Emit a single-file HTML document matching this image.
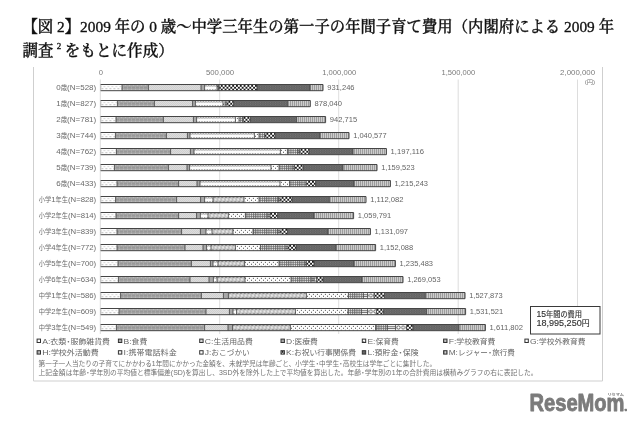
<!DOCTYPE html>
<html lang="ja"><head><meta charset="utf-8"><title>図2</title>
<style>html,body{margin:0;padding:0;background:#fff;}svg{display:block}</style></head><body>
<svg width="640" height="426" viewBox="0 0 640 426">

<defs>
<pattern id="pA" patternUnits="userSpaceOnUse" width="4" height="16" x="100.4" y="84">
 <rect width="4" height="16" fill="#fdfdfd"/><rect x="1.5" y="4.2" width="1" height="1" fill="#8a8a8a"/><rect x="3.5" y="2.2" width="1" height="0.9" fill="#b0b0b0"/><rect x="-0.5" y="2.2" width="1" height="0.9" fill="#b0b0b0"/>
</pattern>
<pattern id="pB" patternUnits="userSpaceOnUse" width="4" height="16" x="0" y="84">
 <rect width="4" height="16" fill="#ababab"/><rect y="2.5" width="4" height="2.1" fill="#989898"/><rect x="3.3" y="2.5" width="0.7" height="2.1" fill="#b4b4b4"/><rect x="1" y="1.3" width="1" height="0.8" fill="#c4c4c4"/><rect x="3" y="5" width="1" height="0.8" fill="#bebebe"/>
</pattern>
<pattern id="pC" patternUnits="userSpaceOnUse" width="2" height="2" x="0" y="84">
 <rect width="2" height="2" fill="#dcdcdc"/><rect x="0" y="0" width="1" height="1" fill="#d0d0d0"/><rect x="1" y="1" width="1" height="1" fill="#d0d0d0"/>
</pattern>
<pattern id="pD" patternUnits="userSpaceOnUse" width="4" height="4">
 <rect width="4" height="4" fill="#a8a8a8"/>
</pattern>
<pattern id="pE" patternUnits="userSpaceOnUse" width="1.6" height="16" x="0" y="84">
 <rect width="1.6" height="16" fill="#fcfcfc"/><rect x="0" y="1" width="1.6" height="1.9" fill="#e6e6e6"/><rect x="0" y="1.1" width="0.8" height="1" fill="#8e8e8e"/><rect x="0.8" y="2.1" width="0.8" height="0.8" fill="#bdbdbd"/><rect x="0.8" y="5" width="0.8" height="1" fill="#9c9c9c"/>
</pattern>
<pattern id="pF" patternUnits="userSpaceOnUse" width="3.75" height="16" x="0" y="84">
 <rect width="3.75" height="16" fill="#c2c2c2"/><rect x="0" y="0.6" width="2" height="1" fill="#6a6a6a"/><rect x="1.9" y="5.4" width="1.9" height="0.9" fill="#808080"/>
 <path d="M1.9 2.1 L3.3 3.6 L1.9 5.1 L0.5 3.6Z" fill="#e6e6e6"/><path d="M0 2.9 L0.5 3.6 L0 4.3Z M3.75 2.9 L3.3 3.6 L3.75 4.3Z" fill="#a2a2a2"/>
</pattern>
<pattern id="pG" patternUnits="userSpaceOnUse" width="4" height="16" x="0" y="84">
 <rect width="4" height="16" fill="#fdfdfd"/><rect x="0.9" y="1.85" width="1" height="1" fill="#4c4c4c"/><rect x="3" y="3.75" width="1" height="1" fill="#4c4c4c"/><rect x="0.9" y="5.7" width="1" height="0.8" fill="#777"/>
</pattern>
<pattern id="pH" patternUnits="userSpaceOnUse" width="2.2" height="16" x="0" y="84">
 <rect width="2.2" height="16" fill="#e6e6e6"/><rect x="0" y="0" width="1.1" height="16" fill="#777"/><rect x="0" y="2.45" width="2.2" height="0.6" fill="#666"/><rect x="0" y="4.25" width="2.2" height="0.6" fill="#666"/>
</pattern>
<pattern id="pI" patternUnits="userSpaceOnUse" width="3" height="16" x="0" y="84">
 <rect width="3" height="16" fill="#f0f0f0"/><rect x="0" y="2.35" width="3" height="0.8" fill="#5a5a5a"/><rect x="0" y="4.15" width="3" height="0.8" fill="#5a5a5a"/>
</pattern>
<pattern id="pJ" patternUnits="userSpaceOnUse" width="4.6" height="16" x="0.6" y="84">
 <rect width="4.6" height="16" fill="#fff"/><rect x="0.8" y="1.9" width="3" height="3.2" rx="1.3" fill="#fff" stroke="#3c3c3c" stroke-width="0.8"/>
</pattern>
<pattern id="pK" patternUnits="userSpaceOnUse" width="3.8" height="3.8" x="0.4" y="84.9">
 <rect width="3.8" height="3.8" fill="#fff"/><rect x="0" y="0" width="1.9" height="1.9" fill="#1e1e1e"/><rect x="1.9" y="1.9" width="1.9" height="1.9" fill="#1e1e1e"/>
</pattern>
<pattern id="pL" patternUnits="userSpaceOnUse" width="2.5" height="2" x="0" y="84.3">
 <rect width="2.5" height="2" fill="#5c5c5c"/><rect x="0" y="0" width="1" height="0.9" fill="#828282"/><rect x="1.25" y="1" width="1" height="0.9" fill="#7a7a7a"/>
</pattern>
<pattern id="pM" patternUnits="userSpaceOnUse" width="2" height="4" x="0.3" y="84">
 <rect width="2" height="4" fill="#f2f2f2"/><rect x="0" y="0" width="0.8" height="4" fill="#585858"/>
</pattern>
<filter id="blur" x="-2%" y="-2%" width="104%" height="104%"><feGaussianBlur stdDeviation="0.22"/></filter>
</defs>
<rect width="640" height="426" fill="#fff"/>
<g font-family='"Liberation Serif","Noto Serif CJK JP","Noto Serif CJK SC",serif' font-size="15.4" font-weight="500" fill="#111" stroke="#111" stroke-width="0.33">
<text x="22.5" y="31.5" textLength="591.5" lengthAdjust="spacingAndGlyphs" xml:space="preserve">【図 2】2009 年の 0 歳～中学三年生の第一子の年間子育て費用（内閣府による 2009 年</text>
<text x="22.5" y="55.6" xml:space="preserve"><tspan textLength="31" lengthAdjust="spacingAndGlyphs">調査</tspan><tspan dx="3.2" dy="-6.8" font-size="9">2</tspan><tspan dx="3.6" dy="6.8" textLength="109" lengthAdjust="spacingAndGlyphs">をもとに作成）</tspan></text>
</g>
<g fill="none" stroke="#cfcfcf" stroke-width="1">
<path d="M33.5 67 V381 H602.5 V67"/>
</g>
<g stroke="#d4d4d4" stroke-width="0.8">
<line x1="100.3" y1="79.5" x2="100.3" y2="334"/>
<line x1="219.7" y1="79.5" x2="219.7" y2="334"/>
<line x1="338.7" y1="79.5" x2="338.7" y2="334"/>
<line x1="458.2" y1="79.5" x2="458.2" y2="334"/>
<line x1="577.5" y1="79.5" x2="577.5" y2="334"/>
</g>
<g font-family='"Liberation Sans","Noto Sans CJK JP","Noto Sans CJK SC",sans-serif' font-size="7.6" fill="#7a7a7a" text-anchor="middle">
<text x="100.8" y="75.4">0</text>
<text x="220.0" y="75.4" textLength="28.2" lengthAdjust="spacingAndGlyphs">500,000</text>
<text x="339.2" y="75.4" textLength="34" lengthAdjust="spacingAndGlyphs">1,000,000</text>
<text x="458.3" y="75.4" textLength="33.6" lengthAdjust="spacingAndGlyphs">1,500,000</text>
<text x="577.6" y="75.4" textLength="35" lengthAdjust="spacingAndGlyphs">2,000,000</text>
<text x="595.2" y="84.4" text-anchor="end" font-size="6.2" textLength="10.4" lengthAdjust="spacingAndGlyphs">(円)</text>
</g>
<g filter="url(#blur)">
<g transform="translate(0,0.0)">
<rect x="101.0" y="84.5" width="21.0" height="6.2" fill="url(#pA)"/><rect x="122" y="84.5" width="26.4" height="6.2" fill="url(#pB)"/><rect x="148.4" y="84.5" width="52.6" height="6.2" fill="url(#pC)"/><rect x="201" y="84.5" width="3.6" height="6.2" fill="url(#pD)"/><rect x="204.6" y="84.5" width="12.4" height="6.2" fill="url(#pE)"/><rect x="217" y="84.5" width="1" height="6.2" fill="url(#pG)"/><rect x="218" y="84.5" width="1.2" height="6.2" fill="url(#pH)"/><rect x="219.2" y="84.5" width="37.8" height="6.2" fill="url(#pK)"/><rect x="257" y="84.5" width="53" height="6.2" fill="url(#pL)"/><rect x="310" y="84.5" width="13" height="6.2" fill="url(#pM)"/>
<path d="M122 84.5v6.2M148.4 84.5v6.2M201 84.5v6.2M204.6 84.5v6.2M217 84.5v6.2M218 84.5v6.2M219.2 84.5v6.2M257 84.5v6.2M310 84.5v6.2" stroke="#3a3a3a" stroke-width="0.8" fill="none"/><path d="M100.6 84.5H323V90.7H100.6" fill="none" stroke="#444" stroke-width="1"/><path d="M100.8 84.5v6.2" fill="none" stroke="#999" stroke-width="0.6"/>
</g>
<g transform="translate(0,16.0)">
<rect x="101.0" y="84.5" width="16.4" height="6.2" fill="url(#pA)"/><rect x="117.4" y="84.5" width="37.0" height="6.2" fill="url(#pB)"/><rect x="154.4" y="84.5" width="38.2" height="6.2" fill="url(#pC)"/><rect x="192.6" y="84.5" width="2.8" height="6.2" fill="url(#pD)"/><rect x="195.4" y="84.5" width="27.6" height="6.2" fill="url(#pE)"/><rect x="223" y="84.5" width="2" height="6.2" fill="url(#pG)"/><rect x="225" y="84.5" width="2" height="6.2" fill="url(#pH)"/><rect x="227" y="84.5" width="6.6" height="6.2" fill="url(#pK)"/><rect x="233.6" y="84.5" width="54.0" height="6.2" fill="url(#pL)"/><rect x="287.6" y="84.5" width="22.7" height="6.2" fill="url(#pM)"/>
<path d="M117.4 84.5v6.2M154.4 84.5v6.2M192.6 84.5v6.2M195.4 84.5v6.2M223 84.5v6.2M225 84.5v6.2M227 84.5v6.2M233.6 84.5v6.2M287.6 84.5v6.2" stroke="#3a3a3a" stroke-width="0.8" fill="none"/><path d="M100.6 84.5H310.3V90.7H100.6" fill="none" stroke="#444" stroke-width="1"/><path d="M100.8 84.5v6.2" fill="none" stroke="#999" stroke-width="0.6"/>
</g>
<g transform="translate(0,32.0)">
<rect x="101.0" y="84.5" width="15.0" height="6.2" fill="url(#pA)"/><rect x="116" y="84.5" width="47.4" height="6.2" fill="url(#pB)"/><rect x="163.4" y="84.5" width="30.0" height="6.2" fill="url(#pC)"/><rect x="193.4" y="84.5" width="3.2" height="6.2" fill="url(#pD)"/><rect x="196.6" y="84.5" width="38.8" height="6.2" fill="url(#pE)"/><rect x="235.4" y="84.5" width="3.6" height="6.2" fill="url(#pG)"/><rect x="239" y="84.5" width="4" height="6.2" fill="url(#pH)"/><rect x="243" y="84.5" width="7.4" height="6.2" fill="url(#pK)"/><rect x="250.4" y="84.5" width="46.2" height="6.2" fill="url(#pL)"/><rect x="296.6" y="84.5" width="29.0" height="6.2" fill="url(#pM)"/>
<path d="M116 84.5v6.2M163.4 84.5v6.2M193.4 84.5v6.2M196.6 84.5v6.2M235.4 84.5v6.2M239 84.5v6.2M243 84.5v6.2M250.4 84.5v6.2M296.6 84.5v6.2" stroke="#3a3a3a" stroke-width="0.8" fill="none"/><path d="M100.6 84.5H325.6V90.7H100.6" fill="none" stroke="#444" stroke-width="1"/><path d="M100.8 84.5v6.2" fill="none" stroke="#999" stroke-width="0.6"/>
</g>
<g transform="translate(0,48.0)">
<rect x="101.0" y="84.5" width="14.4" height="6.2" fill="url(#pA)"/><rect x="115.4" y="84.5" width="51.0" height="6.2" fill="url(#pB)"/><rect x="166.4" y="84.5" width="21.0" height="6.2" fill="url(#pC)"/><rect x="187.4" y="84.5" width="2.6" height="6.2" fill="url(#pD)"/><rect x="190" y="84.5" width="64.4" height="6.2" fill="url(#pE)"/><rect x="254.4" y="84.5" width="4.6" height="6.2" fill="url(#pG)"/><rect x="259" y="84.5" width="6" height="6.2" fill="url(#pH)"/><rect x="265" y="84.5" width="10" height="6.2" fill="url(#pK)"/><rect x="275" y="84.5" width="45" height="6.2" fill="url(#pL)"/><rect x="320" y="84.5" width="29" height="6.2" fill="url(#pM)"/>
<path d="M115.4 84.5v6.2M166.4 84.5v6.2M187.4 84.5v6.2M190 84.5v6.2M254.4 84.5v6.2M259 84.5v6.2M265 84.5v6.2M275 84.5v6.2M320 84.5v6.2" stroke="#3a3a3a" stroke-width="0.8" fill="none"/><path d="M100.6 84.5H349V90.7H100.6" fill="none" stroke="#444" stroke-width="1"/><path d="M100.8 84.5v6.2" fill="none" stroke="#999" stroke-width="0.6"/>
</g>
<g transform="translate(0,64.0)">
<rect x="101.0" y="84.5" width="15.4" height="6.2" fill="url(#pA)"/><rect x="116.4" y="84.5" width="54.2" height="6.2" fill="url(#pB)"/><rect x="170.6" y="84.5" width="19.8" height="6.2" fill="url(#pC)"/><rect x="190.4" y="84.5" width="3.6" height="6.2" fill="url(#pD)"/><rect x="194" y="84.5" width="86.4" height="6.2" fill="url(#pE)"/><rect x="280.4" y="84.5" width="7.0" height="6.2" fill="url(#pG)"/><rect x="287.4" y="84.5" width="10.6" height="6.2" fill="url(#pH)"/><rect x="298" y="84.5" width="1.6" height="6.2" fill="url(#pI)"/><rect x="299.6" y="84.5" width="9.4" height="6.2" fill="url(#pK)"/><rect x="309" y="84.5" width="44" height="6.2" fill="url(#pL)"/><rect x="353" y="84.5" width="33.4" height="6.2" fill="url(#pM)"/>
<path d="M116.4 84.5v6.2M170.6 84.5v6.2M190.4 84.5v6.2M194 84.5v6.2M280.4 84.5v6.2M287.4 84.5v6.2M298 84.5v6.2M299.6 84.5v6.2M309 84.5v6.2M353 84.5v6.2" stroke="#3a3a3a" stroke-width="0.8" fill="none"/><path d="M100.6 84.5H386.4V90.7H100.6" fill="none" stroke="#444" stroke-width="1"/><path d="M100.8 84.5v6.2" fill="none" stroke="#999" stroke-width="0.6"/>
</g>
<g transform="translate(0,80.0)">
<rect x="101.0" y="84.5" width="13.4" height="6.2" fill="url(#pA)"/><rect x="114.4" y="84.5" width="54.0" height="6.2" fill="url(#pB)"/><rect x="168.4" y="84.5" width="18.6" height="6.2" fill="url(#pC)"/><rect x="187" y="84.5" width="2.6" height="6.2" fill="url(#pD)"/><rect x="189.6" y="84.5" width="81.4" height="6.2" fill="url(#pE)"/><rect x="271" y="84.5" width="8" height="6.2" fill="url(#pG)"/><rect x="279" y="84.5" width="14" height="6.2" fill="url(#pH)"/><rect x="293" y="84.5" width="1.6" height="6.2" fill="url(#pI)"/><rect x="294.6" y="84.5" width="8.8" height="6.2" fill="url(#pK)"/><rect x="303.4" y="84.5" width="39.6" height="6.2" fill="url(#pL)"/><rect x="343" y="84.5" width="34" height="6.2" fill="url(#pM)"/>
<path d="M114.4 84.5v6.2M168.4 84.5v6.2M187 84.5v6.2M189.6 84.5v6.2M271 84.5v6.2M279 84.5v6.2M293 84.5v6.2M294.6 84.5v6.2M303.4 84.5v6.2M343 84.5v6.2" stroke="#3a3a3a" stroke-width="0.8" fill="none"/><path d="M100.6 84.5H377V90.7H100.6" fill="none" stroke="#444" stroke-width="1"/><path d="M100.8 84.5v6.2" fill="none" stroke="#999" stroke-width="0.6"/>
</g>
<g transform="translate(0,96.0)">
<rect x="101.0" y="84.5" width="16.0" height="6.2" fill="url(#pA)"/><rect x="117" y="84.5" width="61.6" height="6.2" fill="url(#pB)"/><rect x="178.6" y="84.5" width="18.4" height="6.2" fill="url(#pC)"/><rect x="197" y="84.5" width="3" height="6.2" fill="url(#pD)"/><rect x="200" y="84.5" width="80" height="6.2" fill="url(#pE)"/><rect x="280" y="84.5" width="9.6" height="6.2" fill="url(#pG)"/><rect x="289.6" y="84.5" width="16.4" height="6.2" fill="url(#pH)"/><rect x="306" y="84.5" width="9.6" height="6.2" fill="url(#pK)"/><rect x="315.6" y="84.5" width="38.4" height="6.2" fill="url(#pL)"/><rect x="354" y="84.5" width="36.4" height="6.2" fill="url(#pM)"/>
<path d="M117 84.5v6.2M178.6 84.5v6.2M197 84.5v6.2M200 84.5v6.2M280 84.5v6.2M289.6 84.5v6.2M306 84.5v6.2M315.6 84.5v6.2M354 84.5v6.2" stroke="#3a3a3a" stroke-width="0.8" fill="none"/><path d="M100.6 84.5H390.4V90.7H100.6" fill="none" stroke="#444" stroke-width="1"/><path d="M100.8 84.5v6.2" fill="none" stroke="#999" stroke-width="0.6"/>
</g>
<g transform="translate(0,112.0)">
<rect x="101.0" y="84.5" width="14.6" height="6.2" fill="url(#pA)"/><rect x="115.6" y="84.5" width="61.0" height="6.2" fill="url(#pB)"/><rect x="176.6" y="84.5" width="24.0" height="6.2" fill="url(#pC)"/><rect x="200.6" y="84.5" width="4.0" height="6.2" fill="url(#pD)"/><rect x="204.6" y="84.5" width="8.4" height="6.2" fill="url(#pE)"/><rect x="213" y="84.5" width="31" height="6.2" fill="url(#pF)"/><rect x="244" y="84.5" width="15" height="6.2" fill="url(#pG)"/><rect x="259" y="84.5" width="19.4" height="6.2" fill="url(#pH)"/><rect x="278.4" y="84.5" width="1.6" height="6.2" fill="url(#pI)"/><rect x="280" y="84.5" width="12" height="6.2" fill="url(#pK)"/><rect x="292" y="84.5" width="37.4" height="6.2" fill="url(#pL)"/><rect x="329.4" y="84.5" width="36.6" height="6.2" fill="url(#pM)"/>
<path d="M115.6 84.5v6.2M176.6 84.5v6.2M200.6 84.5v6.2M204.6 84.5v6.2M213 84.5v6.2M244 84.5v6.2M259 84.5v6.2M278.4 84.5v6.2M280 84.5v6.2M292 84.5v6.2M329.4 84.5v6.2" stroke="#3a3a3a" stroke-width="0.8" fill="none"/><path d="M100.6 84.5H366V90.7H100.6" fill="none" stroke="#444" stroke-width="1"/><path d="M100.8 84.5v6.2" fill="none" stroke="#999" stroke-width="0.6"/>
</g>
<g transform="translate(0,128.0)">
<rect x="101.0" y="84.5" width="15.0" height="6.2" fill="url(#pA)"/><rect x="116" y="84.5" width="62.6" height="6.2" fill="url(#pB)"/><rect x="178.6" y="84.5" width="18.0" height="6.2" fill="url(#pC)"/><rect x="196.6" y="84.5" width="3.8" height="6.2" fill="url(#pD)"/><rect x="200.4" y="84.5" width="7.6" height="6.2" fill="url(#pE)"/><rect x="208" y="84.5" width="20.4" height="6.2" fill="url(#pF)"/><rect x="228.4" y="84.5" width="17.0" height="6.2" fill="url(#pG)"/><rect x="245.4" y="84.5" width="22.6" height="6.2" fill="url(#pH)"/><rect x="268" y="84.5" width="2" height="6.2" fill="url(#pI)"/><rect x="270" y="84.5" width="7.6" height="6.2" fill="url(#pK)"/><rect x="277.6" y="84.5" width="36.4" height="6.2" fill="url(#pL)"/><rect x="314" y="84.5" width="39.6" height="6.2" fill="url(#pM)"/>
<path d="M116 84.5v6.2M178.6 84.5v6.2M196.6 84.5v6.2M200.4 84.5v6.2M208 84.5v6.2M228.4 84.5v6.2M245.4 84.5v6.2M268 84.5v6.2M270 84.5v6.2M277.6 84.5v6.2M314 84.5v6.2" stroke="#3a3a3a" stroke-width="0.8" fill="none"/><path d="M100.6 84.5H353.6V90.7H100.6" fill="none" stroke="#444" stroke-width="1"/><path d="M100.8 84.5v6.2" fill="none" stroke="#999" stroke-width="0.6"/>
</g>
<g transform="translate(0,144.0)">
<rect x="101.0" y="84.5" width="16.0" height="6.2" fill="url(#pA)"/><rect x="117" y="84.5" width="64.6" height="6.2" fill="url(#pB)"/><rect x="181.6" y="84.5" width="18.8" height="6.2" fill="url(#pC)"/><rect x="200.4" y="84.5" width="5.6" height="6.2" fill="url(#pD)"/><rect x="206" y="84.5" width="6" height="6.2" fill="url(#pE)"/><rect x="212" y="84.5" width="21" height="6.2" fill="url(#pF)"/><rect x="233" y="84.5" width="20" height="6.2" fill="url(#pG)"/><rect x="253" y="84.5" width="25" height="6.2" fill="url(#pH)"/><rect x="278" y="84.5" width="2" height="6.2" fill="url(#pI)"/><rect x="280" y="84.5" width="7.6" height="6.2" fill="url(#pK)"/><rect x="287.6" y="84.5" width="40.4" height="6.2" fill="url(#pL)"/><rect x="328" y="84.5" width="42.4" height="6.2" fill="url(#pM)"/>
<path d="M117 84.5v6.2M181.6 84.5v6.2M200.4 84.5v6.2M206 84.5v6.2M212 84.5v6.2M233 84.5v6.2M253 84.5v6.2M278 84.5v6.2M280 84.5v6.2M287.6 84.5v6.2M328 84.5v6.2" stroke="#3a3a3a" stroke-width="0.8" fill="none"/><path d="M100.6 84.5H370.4V90.7H100.6" fill="none" stroke="#444" stroke-width="1"/><path d="M100.8 84.5v6.2" fill="none" stroke="#999" stroke-width="0.6"/>
</g>
<g transform="translate(0,160.0)">
<rect x="101.0" y="84.5" width="16.0" height="6.2" fill="url(#pA)"/><rect x="117" y="84.5" width="68" height="6.2" fill="url(#pB)"/><rect x="185" y="84.5" width="18" height="6.2" fill="url(#pC)"/><rect x="203" y="84.5" width="3.6" height="6.2" fill="url(#pD)"/><rect x="206.6" y="84.5" width="4.4" height="6.2" fill="url(#pE)"/><rect x="211" y="84.5" width="24.4" height="6.2" fill="url(#pF)"/><rect x="235.4" y="84.5" width="25.0" height="6.2" fill="url(#pG)"/><rect x="260.4" y="84.5" width="25.6" height="6.2" fill="url(#pH)"/><rect x="286" y="84.5" width="2" height="6.2" fill="url(#pI)"/><rect x="288" y="84.5" width="8" height="6.2" fill="url(#pK)"/><rect x="296" y="84.5" width="40" height="6.2" fill="url(#pL)"/><rect x="336" y="84.5" width="39.6" height="6.2" fill="url(#pM)"/>
<path d="M117 84.5v6.2M185 84.5v6.2M203 84.5v6.2M206.6 84.5v6.2M211 84.5v6.2M235.4 84.5v6.2M260.4 84.5v6.2M286 84.5v6.2M288 84.5v6.2M296 84.5v6.2M336 84.5v6.2" stroke="#3a3a3a" stroke-width="0.8" fill="none"/><path d="M100.6 84.5H375.6V90.7H100.6" fill="none" stroke="#444" stroke-width="1"/><path d="M100.8 84.5v6.2" fill="none" stroke="#999" stroke-width="0.6"/>
</g>
<g transform="translate(0,176.0)">
<rect x="101.0" y="84.5" width="17.0" height="6.2" fill="url(#pA)"/><rect x="118" y="84.5" width="73.4" height="6.2" fill="url(#pB)"/><rect x="191.4" y="84.5" width="19.0" height="6.2" fill="url(#pC)"/><rect x="210.4" y="84.5" width="2.6" height="6.2" fill="url(#pD)"/><rect x="213" y="84.5" width="5" height="6.2" fill="url(#pE)"/><rect x="218" y="84.5" width="26.6" height="6.2" fill="url(#pF)"/><rect x="244.6" y="84.5" width="34.4" height="6.2" fill="url(#pG)"/><rect x="279" y="84.5" width="26" height="6.2" fill="url(#pH)"/><rect x="305" y="84.5" width="1.4" height="6.2" fill="url(#pI)"/><rect x="306.4" y="84.5" width="7.6" height="6.2" fill="url(#pK)"/><rect x="314" y="84.5" width="40" height="6.2" fill="url(#pL)"/><rect x="354" y="84.5" width="41.4" height="6.2" fill="url(#pM)"/>
<path d="M118 84.5v6.2M191.4 84.5v6.2M210.4 84.5v6.2M213 84.5v6.2M218 84.5v6.2M244.6 84.5v6.2M279 84.5v6.2M305 84.5v6.2M306.4 84.5v6.2M314 84.5v6.2M354 84.5v6.2" stroke="#3a3a3a" stroke-width="0.8" fill="none"/><path d="M100.6 84.5H395.4V90.7H100.6" fill="none" stroke="#444" stroke-width="1"/><path d="M100.8 84.5v6.2" fill="none" stroke="#999" stroke-width="0.6"/>
</g>
<g transform="translate(0,192.0)">
<rect x="101.0" y="84.5" width="17.4" height="6.2" fill="url(#pA)"/><rect x="118.4" y="84.5" width="71.6" height="6.2" fill="url(#pB)"/><rect x="190" y="84.5" width="19" height="6.2" fill="url(#pC)"/><rect x="209" y="84.5" width="4.4" height="6.2" fill="url(#pD)"/><rect x="213.4" y="84.5" width="3.6" height="6.2" fill="url(#pE)"/><rect x="217" y="84.5" width="28" height="6.2" fill="url(#pF)"/><rect x="245" y="84.5" width="46" height="6.2" fill="url(#pG)"/><rect x="291" y="84.5" width="21" height="6.2" fill="url(#pH)"/><rect x="312" y="84.5" width="2" height="6.2" fill="url(#pI)"/><rect x="314" y="84.5" width="2.6" height="6.2" fill="url(#pJ)"/><rect x="316.6" y="84.5" width="6.4" height="6.2" fill="url(#pK)"/><rect x="323" y="84.5" width="39" height="6.2" fill="url(#pL)"/><rect x="362" y="84.5" width="41" height="6.2" fill="url(#pM)"/>
<path d="M118.4 84.5v6.2M190 84.5v6.2M209 84.5v6.2M213.4 84.5v6.2M217 84.5v6.2M245 84.5v6.2M291 84.5v6.2M312 84.5v6.2M314 84.5v6.2M316.6 84.5v6.2M323 84.5v6.2M362 84.5v6.2" stroke="#3a3a3a" stroke-width="0.8" fill="none"/><path d="M100.6 84.5H403V90.7H100.6" fill="none" stroke="#444" stroke-width="1"/><path d="M100.8 84.5v6.2" fill="none" stroke="#999" stroke-width="0.6"/>
</g>
<g transform="translate(0,208.0)">
<rect x="101.0" y="84.5" width="19.6" height="6.2" fill="url(#pA)"/><rect x="120.6" y="84.5" width="80.8" height="6.2" fill="url(#pB)"/><rect x="201.4" y="84.5" width="22.0" height="6.2" fill="url(#pC)"/><rect x="223.4" y="84.5" width="5.0" height="6.2" fill="url(#pD)"/><rect x="228.4" y="84.5" width="78.0" height="6.2" fill="url(#pF)"/><rect x="306.4" y="84.5" width="42.0" height="6.2" fill="url(#pG)"/><rect x="348.4" y="84.5" width="15.0" height="6.2" fill="url(#pH)"/><rect x="363.4" y="84.5" width="4.2" height="6.2" fill="url(#pI)"/><rect x="367.6" y="84.5" width="6.4" height="6.2" fill="url(#pJ)"/><rect x="374" y="84.5" width="10.4" height="6.2" fill="url(#pK)"/><rect x="384.4" y="84.5" width="41.0" height="6.2" fill="url(#pL)"/><rect x="425.4" y="84.5" width="39.6" height="6.2" fill="url(#pM)"/>
<path d="M120.6 84.5v6.2M201.4 84.5v6.2M223.4 84.5v6.2M228.4 84.5v6.2M306.4 84.5v6.2M348.4 84.5v6.2M363.4 84.5v6.2M367.6 84.5v6.2M374 84.5v6.2M384.4 84.5v6.2M425.4 84.5v6.2" stroke="#3a3a3a" stroke-width="0.8" fill="none"/><path d="M100.6 84.5H465V90.7H100.6" fill="none" stroke="#444" stroke-width="1"/><path d="M100.8 84.5v6.2" fill="none" stroke="#999" stroke-width="0.6"/>
</g>
<g transform="translate(0,224.0)">
<rect x="101.0" y="84.5" width="18.0" height="6.2" fill="url(#pA)"/><rect x="119" y="84.5" width="87" height="6.2" fill="url(#pB)"/><rect x="206" y="84.5" width="23.4" height="6.2" fill="url(#pC)"/><rect x="229.4" y="84.5" width="3.6" height="6.2" fill="url(#pD)"/><rect x="233" y="84.5" width="3.6" height="6.2" fill="url(#pE)"/><rect x="236.6" y="84.5" width="58.8" height="6.2" fill="url(#pF)"/><rect x="295.4" y="84.5" width="52.6" height="6.2" fill="url(#pG)"/><rect x="348" y="84.5" width="13.4" height="6.2" fill="url(#pH)"/><rect x="361.4" y="84.5" width="6.2" height="6.2" fill="url(#pI)"/><rect x="367.6" y="84.5" width="8.8" height="6.2" fill="url(#pJ)"/><rect x="376.4" y="84.5" width="7.2" height="6.2" fill="url(#pK)"/><rect x="383.6" y="84.5" width="43.0" height="6.2" fill="url(#pL)"/><rect x="426.6" y="84.5" width="39.0" height="6.2" fill="url(#pM)"/>
<path d="M119 84.5v6.2M206 84.5v6.2M229.4 84.5v6.2M233 84.5v6.2M236.6 84.5v6.2M295.4 84.5v6.2M348 84.5v6.2M361.4 84.5v6.2M367.6 84.5v6.2M376.4 84.5v6.2M383.6 84.5v6.2M426.6 84.5v6.2" stroke="#3a3a3a" stroke-width="0.8" fill="none"/><path d="M100.6 84.5H465.6V90.7H100.6" fill="none" stroke="#444" stroke-width="1"/><path d="M100.8 84.5v6.2" fill="none" stroke="#999" stroke-width="0.6"/>
</g>
<g transform="translate(0,240.0)">
<rect x="101.0" y="84.5" width="15.4" height="6.2" fill="url(#pA)"/><rect x="116.4" y="84.5" width="88.2" height="6.2" fill="url(#pB)"/><rect x="204.6" y="84.5" width="23.4" height="6.2" fill="url(#pC)"/><rect x="228" y="84.5" width="4.6" height="6.2" fill="url(#pD)"/><rect x="232.6" y="84.5" width="57.8" height="6.2" fill="url(#pF)"/><rect x="290.4" y="84.5" width="85.2" height="6.2" fill="url(#pG)"/><rect x="375.6" y="84.5" width="11.8" height="6.2" fill="url(#pH)"/><rect x="387.4" y="84.5" width="8.2" height="6.2" fill="url(#pI)"/><rect x="395.6" y="84.5" width="11.0" height="6.2" fill="url(#pJ)"/><rect x="406.6" y="84.5" width="6.4" height="6.2" fill="url(#pK)"/><rect x="413" y="84.5" width="46" height="6.2" fill="url(#pL)"/><rect x="459" y="84.5" width="26.4" height="6.2" fill="url(#pM)"/>
<path d="M116.4 84.5v6.2M204.6 84.5v6.2M228 84.5v6.2M232.6 84.5v6.2M290.4 84.5v6.2M375.6 84.5v6.2M387.4 84.5v6.2M395.6 84.5v6.2M406.6 84.5v6.2M413 84.5v6.2M459 84.5v6.2" stroke="#3a3a3a" stroke-width="0.8" fill="none"/><path d="M100.6 84.5H485.4V90.7H100.6" fill="none" stroke="#444" stroke-width="1"/><path d="M100.8 84.5v6.2" fill="none" stroke="#999" stroke-width="0.6"/>
</g>
</g>
<g font-family='"Liberation Sans","Noto Sans CJK JP","Noto Sans CJK SC",sans-serif' fill="#6a6a6a" text-anchor="end">
<text x="96.2" y="90.1" textLength="40.0" lengthAdjust="spacingAndGlyphs"><tspan font-size="7.8">0</tspan><tspan font-size="6.3">歳</tspan><tspan font-size="7.8">(N=528)</tspan></text>
<text x="96.2" y="106.1" textLength="40.0" lengthAdjust="spacingAndGlyphs"><tspan font-size="7.8">1</tspan><tspan font-size="6.3">歳</tspan><tspan font-size="7.8">(N=827)</tspan></text>
<text x="96.2" y="122.1" textLength="40.0" lengthAdjust="spacingAndGlyphs"><tspan font-size="7.8">2</tspan><tspan font-size="6.3">歳</tspan><tspan font-size="7.8">(N=781)</tspan></text>
<text x="96.2" y="138.1" textLength="40.0" lengthAdjust="spacingAndGlyphs"><tspan font-size="7.8">3</tspan><tspan font-size="6.3">歳</tspan><tspan font-size="7.8">(N=744)</tspan></text>
<text x="96.2" y="154.1" textLength="40.0" lengthAdjust="spacingAndGlyphs"><tspan font-size="7.8">4</tspan><tspan font-size="6.3">歳</tspan><tspan font-size="7.8">(N=762)</tspan></text>
<text x="96.2" y="170.1" textLength="40.0" lengthAdjust="spacingAndGlyphs"><tspan font-size="7.8">5</tspan><tspan font-size="6.3">歳</tspan><tspan font-size="7.8">(N=739)</tspan></text>
<text x="96.2" y="186.1" textLength="40.0" lengthAdjust="spacingAndGlyphs"><tspan font-size="7.8">6</tspan><tspan font-size="6.3">歳</tspan><tspan font-size="7.8">(N=433)</tspan></text>
<text x="96.2" y="202.1" textLength="57.5" lengthAdjust="spacingAndGlyphs"><tspan font-size="6.3">小学</tspan><tspan font-size="7.8">1</tspan><tspan font-size="6.3">年生</tspan><tspan font-size="7.8">(N=828)</tspan></text>
<text x="96.2" y="218.1" textLength="57.5" lengthAdjust="spacingAndGlyphs"><tspan font-size="6.3">小学</tspan><tspan font-size="7.8">2</tspan><tspan font-size="6.3">年生</tspan><tspan font-size="7.8">(N=814)</tspan></text>
<text x="96.2" y="234.1" textLength="57.5" lengthAdjust="spacingAndGlyphs"><tspan font-size="6.3">小学</tspan><tspan font-size="7.8">3</tspan><tspan font-size="6.3">年生</tspan><tspan font-size="7.8">(N=839)</tspan></text>
<text x="96.2" y="250.1" textLength="57.5" lengthAdjust="spacingAndGlyphs"><tspan font-size="6.3">小学</tspan><tspan font-size="7.8">4</tspan><tspan font-size="6.3">年生</tspan><tspan font-size="7.8">(N=772)</tspan></text>
<text x="96.2" y="266.1" textLength="57.5" lengthAdjust="spacingAndGlyphs"><tspan font-size="6.3">小学</tspan><tspan font-size="7.8">5</tspan><tspan font-size="6.3">年生</tspan><tspan font-size="7.8">(N=700)</tspan></text>
<text x="96.2" y="282.1" textLength="57.5" lengthAdjust="spacingAndGlyphs"><tspan font-size="6.3">小学</tspan><tspan font-size="7.8">6</tspan><tspan font-size="6.3">年生</tspan><tspan font-size="7.8">(N=634)</tspan></text>
<text x="96.2" y="298.1" textLength="57.5" lengthAdjust="spacingAndGlyphs"><tspan font-size="6.3">中学</tspan><tspan font-size="7.8">1</tspan><tspan font-size="6.3">年生</tspan><tspan font-size="7.8">(N=586)</tspan></text>
<text x="96.2" y="314.1" textLength="57.5" lengthAdjust="spacingAndGlyphs"><tspan font-size="6.3">中学</tspan><tspan font-size="7.8">2</tspan><tspan font-size="6.3">年生</tspan><tspan font-size="7.8">(N=609)</tspan></text>
<text x="96.2" y="330.1" textLength="57.5" lengthAdjust="spacingAndGlyphs"><tspan font-size="6.3">中学</tspan><tspan font-size="7.8">3</tspan><tspan font-size="6.3">年生</tspan><tspan font-size="7.8">(N=549)</tspan></text>
</g>
<g font-family='"Liberation Sans","Noto Sans CJK JP","Noto Sans CJK SC",sans-serif' font-size="7.4" fill="#646464">
<text x="327.2" y="90.1" textLength="27.4" lengthAdjust="spacingAndGlyphs">931,246</text>
<text x="314.5" y="106.1" textLength="27.4" lengthAdjust="spacingAndGlyphs">878,040</text>
<text x="329.8" y="122.1" textLength="27.4" lengthAdjust="spacingAndGlyphs">942,715</text>
<text x="353.2" y="138.1" textLength="33.4" lengthAdjust="spacingAndGlyphs">1,040,577</text>
<text x="390.6" y="154.1" textLength="33.4" lengthAdjust="spacingAndGlyphs">1,197,116</text>
<text x="381.2" y="170.1" textLength="33.4" lengthAdjust="spacingAndGlyphs">1,159,523</text>
<text x="394.6" y="186.1" textLength="33.4" lengthAdjust="spacingAndGlyphs">1,215,243</text>
<text x="370.2" y="202.1" textLength="33.4" lengthAdjust="spacingAndGlyphs">1,112,082</text>
<text x="357.8" y="218.1" textLength="33.4" lengthAdjust="spacingAndGlyphs">1,059,791</text>
<text x="374.6" y="234.1" textLength="33.4" lengthAdjust="spacingAndGlyphs">1,131,097</text>
<text x="379.8" y="250.1" textLength="33.4" lengthAdjust="spacingAndGlyphs">1,152,088</text>
<text x="399.6" y="266.1" textLength="33.4" lengthAdjust="spacingAndGlyphs">1,235,483</text>
<text x="407.2" y="282.1" textLength="33.4" lengthAdjust="spacingAndGlyphs">1,269,053</text>
<text x="469.2" y="298.1" textLength="33.4" lengthAdjust="spacingAndGlyphs">1,527,873</text>
<text x="469.8" y="314.1" textLength="33.4" lengthAdjust="spacingAndGlyphs">1,531,521</text>
<text x="489.6" y="330.1" textLength="33.4" lengthAdjust="spacingAndGlyphs">1,611,802</text>
</g>
<rect x="530.5" y="306.5" width="69.5" height="27.5" fill="#fff" stroke="#3a3a3a" stroke-width="1"/>
<g font-family='"Liberation Sans","Noto Sans CJK JP","Noto Sans CJK SC",sans-serif' fill="#333" stroke="#333" stroke-width="0.15">
<text x="536.4" y="316.8" textLength="45.6" lengthAdjust="spacingAndGlyphs"><tspan font-size="9">15</tspan><tspan font-size="7.5">年間の費用</tspan></text>
<text x="536.4" y="326.3" textLength="53.2" lengthAdjust="spacingAndGlyphs"><tspan font-size="9.2">18,995,250</tspan><tspan font-size="8">円</tspan></text>
</g>
<g font-family='"Liberation Sans","Noto Sans CJK JP","Noto Sans CJK SC",sans-serif' fill="#666">
<rect x="37.1" y="339.1" width="3.4" height="3.4" fill="url(#pA)" stroke="#333" stroke-width="1"/><text x="42.2" y="343.8" textLength="67.8" lengthAdjust="spacingAndGlyphs"><tspan font-size="8.1">A:</tspan><tspan font-size="7.4">衣類</tspan><tspan font-size="7.4" dx="-1.63">・</tspan><tspan font-size="7.4" dx="-1.63">服飾雑貨費</tspan></text>
<rect x="118.4" y="339.1" width="3.4" height="3.4" fill="url(#pB)" stroke="#333" stroke-width="1"/><text x="123.5" y="343.8" textLength="23.75" lengthAdjust="spacingAndGlyphs"><tspan font-size="8.1">B:</tspan><tspan font-size="7.4">食費</tspan></text>
<rect x="199.7" y="339.1" width="3.4" height="3.4" fill="url(#pC)" stroke="#333" stroke-width="1"/><text x="204.8" y="343.8" textLength="48" lengthAdjust="spacingAndGlyphs"><tspan font-size="8.1">C:</tspan><tspan font-size="7.4">生活用品費</tspan></text>
<rect x="281.0" y="339.1" width="3.4" height="3.4" fill="url(#pD)" stroke="#333" stroke-width="1"/><text x="286.1" y="343.8" textLength="31.75" lengthAdjust="spacingAndGlyphs"><tspan font-size="8.1">D:</tspan><tspan font-size="7.4">医療費</tspan></text>
<rect x="362.3" y="339.1" width="3.4" height="3.4" fill="url(#pE)" stroke="#333" stroke-width="1"/><text x="367.4" y="343.8" textLength="31.25" lengthAdjust="spacingAndGlyphs"><tspan font-size="8.1">E:</tspan><tspan font-size="7.4">保育費</tspan></text>
<rect x="443.6" y="339.1" width="3.4" height="3.4" fill="url(#pF)" stroke="#333" stroke-width="1"/><text x="448.7" y="343.8" textLength="46.75" lengthAdjust="spacingAndGlyphs"><tspan font-size="8.1">F:</tspan><tspan font-size="7.4">学校教育費</tspan></text>
<rect x="524.9" y="339.1" width="3.4" height="3.4" fill="url(#pG)" stroke="#333" stroke-width="1"/><text x="530.0" y="343.8" textLength="55.5" lengthAdjust="spacingAndGlyphs"><tspan font-size="8.1">G:</tspan><tspan font-size="7.4">学校外教育費</tspan></text>
<rect x="37.1" y="350.7" width="3.4" height="3.4" fill="url(#pH)" stroke="#333" stroke-width="1"/><text x="42.2" y="355.4" textLength="56.5" lengthAdjust="spacingAndGlyphs"><tspan font-size="8.1">H:</tspan><tspan font-size="7.4">学校外活動費</tspan></text>
<rect x="118.4" y="350.7" width="3.4" height="3.4" fill="url(#pI)" stroke="#333" stroke-width="1"/><text x="123.5" y="355.4" textLength="53.25" lengthAdjust="spacingAndGlyphs"><tspan font-size="8.1">I:</tspan><tspan font-size="7.4">携帯電話料金</tspan></text>
<rect x="199.7" y="350.7" width="3.4" height="3.4" fill="url(#pJ)" stroke="#333" stroke-width="1"/><text x="204.8" y="355.4" textLength="45" lengthAdjust="spacingAndGlyphs"><tspan font-size="8.1">J:</tspan><tspan font-size="7.4">おこづかい</tspan></text>
<rect x="281.0" y="350.7" width="3.4" height="3.4" fill="url(#pK)" stroke="#333" stroke-width="1"/><text x="286.1" y="355.4" textLength="70" lengthAdjust="spacingAndGlyphs"><tspan font-size="8.1">K:</tspan><tspan font-size="7.4">お祝い行事関係費</tspan></text>
<rect x="362.3" y="350.7" width="3.4" height="3.4" fill="url(#pL)" stroke="#333" stroke-width="1"/><text x="367.4" y="355.4" textLength="51.25" lengthAdjust="spacingAndGlyphs"><tspan font-size="8.1">L:</tspan><tspan font-size="7.4">預貯金</tspan><tspan font-size="7.4" dx="-1.63">・</tspan><tspan font-size="7.4" dx="-1.63">保険</tspan></text>
<rect x="443.6" y="350.7" width="3.4" height="3.4" fill="url(#pM)" stroke="#333" stroke-width="1"/><text x="448.7" y="355.4" textLength="66.25" lengthAdjust="spacingAndGlyphs"><tspan font-size="8.1">M:</tspan><tspan font-size="7.4">レジャー</tspan><tspan font-size="7.4" dx="-1.63">・</tspan><tspan font-size="7.4" dx="-1.63">旅行費</tspan></text>
</g>
<g font-family='"Liberation Sans","Noto Sans CJK JP","Noto Sans CJK SC",sans-serif' font-size="6.6" fill="#707070">
<text x="38.6" y="366.2" textLength="397.5" lengthAdjust="spacingAndGlyphs"><tspan font-size="6.6">第一子一人当たりの子育てにかかわる</tspan><tspan font-size="6.8">1</tspan><tspan font-size="6.6">年間にかかった金額を、未就学児は年齢ごと、小学生</tspan><tspan font-size="6.6" dx="-1.45">・</tspan><tspan font-size="6.6" dx="-1.45">中学生</tspan><tspan font-size="6.6" dx="-1.45">・</tspan><tspan font-size="6.6" dx="-1.45">高校生は学年ごとに集計した。</tspan></text>
<text x="38.6" y="375.3" textLength="499" lengthAdjust="spacingAndGlyphs"><tspan font-size="6.6">上記金額は年齢</tspan><tspan font-size="6.6" dx="-1.45">・</tspan><tspan font-size="6.6" dx="-1.45">学年別の平均値と標準偏差</tspan><tspan font-size="6.8">(SD)</tspan><tspan font-size="6.6">を算出し、</tspan><tspan font-size="6.8">3SD</tspan><tspan font-size="6.6">外を除外した上で平均値を算出した。年齢</tspan><tspan font-size="6.6" dx="-1.45">・</tspan><tspan font-size="6.6" dx="-1.45">学年別の</tspan><tspan font-size="6.8">1</tspan><tspan font-size="6.6">年の合計費用は横積みグラフの右に表記した。</tspan></text>
</g>
<g font-family='"Liberation Sans","Noto Sans CJK JP","Noto Sans CJK SC",sans-serif' fill="#7b7b7b">
<text x="529.5" y="411.2" font-size="24.5" font-weight="bold" textLength="95" lengthAdjust="spacingAndGlyphs" stroke="#7b7b7b" stroke-width="0.9" stroke-linejoin="round">ReseMom</text>
<rect x="624.6" y="408.7" width="2.4" height="2.5" rx="0.6"/>
<text x="607.4" y="395.9" font-size="3.7" font-weight="bold" textLength="16.6" lengthAdjust="spacingAndGlyphs">リセマム</text>
</g>
</svg>
</body></html>
